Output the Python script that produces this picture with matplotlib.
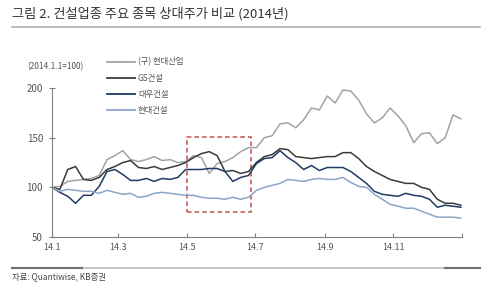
import numpy as np
import pandas as pd
import matplotlib
matplotlib.use('Agg')
import matplotlib.pyplot as plt
from matplotlib.patches import Rectangle
from matplotlib.lines import Line2D

plt.rcParams['font.family'] = ['Noto Sans CJK KR', 'DejaVu Sans']

# weekly samples, 2014
dates = pd.date_range('2014-01-01', periods=53, freq='7D')

hdc = [100, 101, 106, 107, 108, 109, 112, 128, 132, 137, 128, 126, 128, 131, 127, 128, 125, 126,
       132, 130, 114, 124, 126, 130, 136, 140, 140, 150, 152, 164, 165, 160, 168, 180, 178, 192,
       185, 198, 197, 188, 174, 165, 170, 180, 172, 162, 145, 154, 155, 144, 150, 173, 169]
gs = [100, 98, 118, 121, 108, 107, 110, 118, 121, 125, 127, 120, 119, 121, 118, 120, 122, 125,
      130, 134, 136, 132, 116, 117, 114, 116, 125, 131, 133, 139, 138, 131, 130, 129, 130, 131,
      131, 135, 135, 129, 121, 116, 112, 108, 106, 104, 104, 100, 98, 88, 84, 84, 82]
daewoo = [100, 95, 91, 84, 92, 92, 101, 116, 118, 113, 107, 107, 109, 106, 109, 108, 110, 118,
          118, 118, 119, 119, 116, 106, 110, 112, 124, 129, 130, 137, 130, 125, 118, 122, 117, 120,
          120, 120, 116, 110, 104, 96, 93, 92, 91, 94, 92, 91, 88, 80, 82, 81, 80]
hdec = [100, 96, 98, 97, 96, 96, 94, 97, 95, 93, 94, 90, 91, 94, 95, 94, 93, 92,
        92, 90, 89, 89, 88, 90, 88, 90, 97, 100, 102, 104, 108, 107, 106, 108, 109, 108,
        108, 110, 105, 101, 100, 93, 88, 83, 81, 79, 79, 76, 73, 70, 70, 70, 69]

names = ['(구) 현대산업', 'GS건설', '대우건설', '현대건설']
series = [hdc, gs, daewoo, hdec]
colors = ['#a3a3a3', '#3a3a3a', '#1f3c62', '#8ba5c7']

tick_dates = pd.to_datetime(['2014-01-01', '2014-03-01', '2014-05-01', '2014-07-01',
                             '2014-09-01', '2014-11-01', '2015-01-01'])
tick_labels = ['14.1', '14.3', '14.5', '14.7', '14.9', '14.11', '']

fig = plt.figure(figsize=(5, 3.08), dpi=100)
ax = fig.add_axes([0.104, 0.2305, 0.82, 0.4835])

for vals, c in zip(series, colors):
    ax.plot(dates, vals, color=c, lw=1.1)

# highlight box
box = Rectangle((pd.Timestamp('2014-05-01'), 75), pd.Timedelta(days=57), 76,
                fill=False, edgecolor='#c0504d', lw=1.1, ls=(0, (3, 2)))
ax.add_patch(box)

ax.set_xlim(pd.Timestamp('2014-01-01'), pd.Timestamp('2015-01-01'))
ax.set_ylim(50, 200)
ax.set_yticks([50, 100, 150, 200])
ax.set_xticks(tick_dates)
ax.set_xticklabels(tick_labels)
for s in ['top', 'right']:
    ax.spines[s].set_visible(False)
for s in ['left', 'bottom']:
    ax.spines[s].set_color('#808080')
    ax.spines[s].set_linewidth(0.8)
ax.tick_params(axis='y', direction='inout', length=5, width=0.8, color='#808080',
               labelsize=7, labelcolor='#555555', pad=4)
ax.tick_params(axis='x', direction='in', length=3, width=0.8, color='#808080',
               labelsize=6.5, labelcolor='#555555', pad=4)

# legend drawn by hand in figure coords
for i, (n, c) in enumerate(zip(names, colors)):
    y = 1 - (62 + i * 16) / 308
    fig.add_artist(Line2D([107 / 500, 135 / 500], [y, y], color=c, lw=1.3))
    fig.text(138 / 500, y, n, fontsize=6, color='#555555', va='center')

fig.text(27 / 500, 1 - 67 / 308, '(2014.1.1=100)', fontsize=6, color='#555555', va='center')

# title and rules
fig.text(12 / 500, 1 - 14 / 308, '그림 2. 건설업종 주요 종목 상대주가 비교 (2014년)',
         fontsize=9.5, color='#333333', va='center')
fig.add_artist(Line2D([12 / 500, 480 / 500], [1 - 26.5 / 308] * 2, color='#b0b0b0', lw=1.2))

ys = 1 - 268 / 308
fig.add_artist(Line2D([12 / 500, 480 / 500], [ys, ys], color='#c8c8c8', lw=1.5))
fig.add_artist(Line2D([12 / 500, 82 / 500], [ys, ys], color='#707070', lw=1.5))
fig.add_artist(Line2D([445 / 500, 480 / 500], [ys, ys], color='#707070', lw=1.5))
fig.text(12 / 500, 1 - 277 / 308, '자료: Quantiwise, KB증권', fontsize=6, color='#444444', va='center')

fig.savefig('out.png', dpi=100, facecolor='white')
